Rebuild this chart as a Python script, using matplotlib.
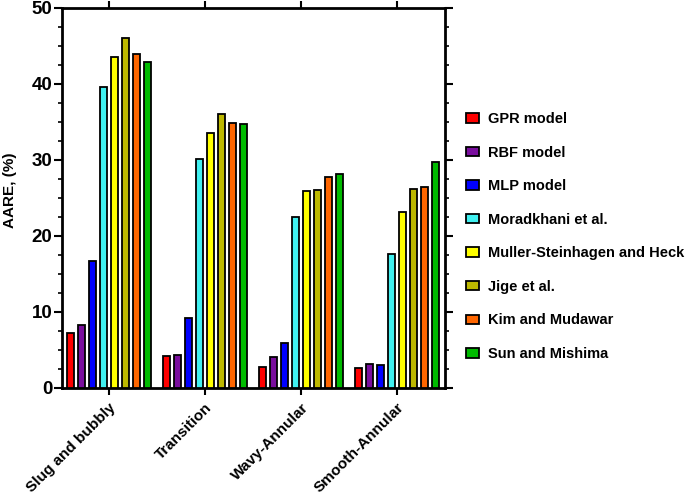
import numpy as np
import matplotlib
matplotlib.use("Agg")
import matplotlib.pyplot as plt
from matplotlib.ticker import MultipleLocator

plt.rcParams['font.family'] = ['Liberation Sans', 'DejaVu Sans']
plt.rcParams['font.weight'] = 'bold'

categories = ["Slug and bubbly", "Transition", "Wavy-Annular", "Smooth-Annular"]
series_names = ["GPR model", "RBF model", "MLP model", "Moradkhani et al.",
                "Muller-Steinhagen and Heck", "Jige et al.", "Kim and Mudawar",
                "Sun and Mishima"]
gpr = [7.2, 4.2, 2.8, 2.6]
rbf = [8.3, 4.3, 4.1, 3.2]
mlp = [16.7, 9.2, 5.9, 3.0]
moradkhani = [39.6, 30.1, 22.5, 17.6]
muller = [43.6, 33.6, 25.9, 23.1]
jige = [46.0, 36.0, 26.0, 26.2]
kim = [44.0, 34.9, 27.8, 26.5]
sun = [42.9, 34.7, 28.2, 29.8]
values = [gpr, rbf, mlp, moradkhani, muller, jige, kim, sun]
colors = ["#FF0000", "#7A0E9E", "#0000FF", "#40F0F0", "#FFFF00", "#BDB800",
          "#FF6600", "#00BB00"]

fig = plt.figure(figsize=(6.85, 4.94), dpi=100)
ax = fig.add_axes([62/685, 1-388/494, (445-62)/685, (388-8)/494])

x = np.arange(len(categories))
pitch = 0.115
width = 0.072
for i, (vals, c, name) in enumerate(zip(values, colors, series_names)):
    ax.bar(x + (i - 3.5) * pitch, vals, width=width, color=c, edgecolor='black',
           linewidth=1.3, label=name, zorder=3)

ax.set_xlim(-0.49, 3.5)
ax.set_ylim(0, 50)
ax.set_xticks(x)
ax.set_xticklabels(categories, rotation=45, ha='right', rotation_mode='anchor',
                   fontsize=11, fontweight='bold')
ax.yaxis.set_major_locator(MultipleLocator(10))
ax.yaxis.set_minor_locator(MultipleLocator(2.5))
ax.tick_params(axis='y', which='major', direction='out', length=6, width=1.5,
               labelsize=13.5, pad=1, right=True, labelright=False)
ax.tick_params(axis='y', which='minor', direction='out', length=3, width=1.2,
               right=True)
ax.tick_params(axis='x', which='major', direction='out', length=5, width=1.5,
               top=True, pad=4)
for lab in ax.get_yticklabels():
    lab.set_fontweight('bold')
for s in ax.spines.values():
    s.set_linewidth(2)

ax.set_ylabel("AARE, (%)", fontsize=11, fontweight='bold')
ax.yaxis.set_label_coords(-0.118, 0.52)

leg = fig.legend(loc='upper left', bbox_to_anchor=(453/685, 1-99/494),
                 frameon=False, handlelength=0.9, handleheight=0.62,
                 labelspacing=1.34, handletextpad=0.6,
                 prop={'weight': 'bold', 'size': 10.5})

fig.savefig("out.png", dpi=100)
